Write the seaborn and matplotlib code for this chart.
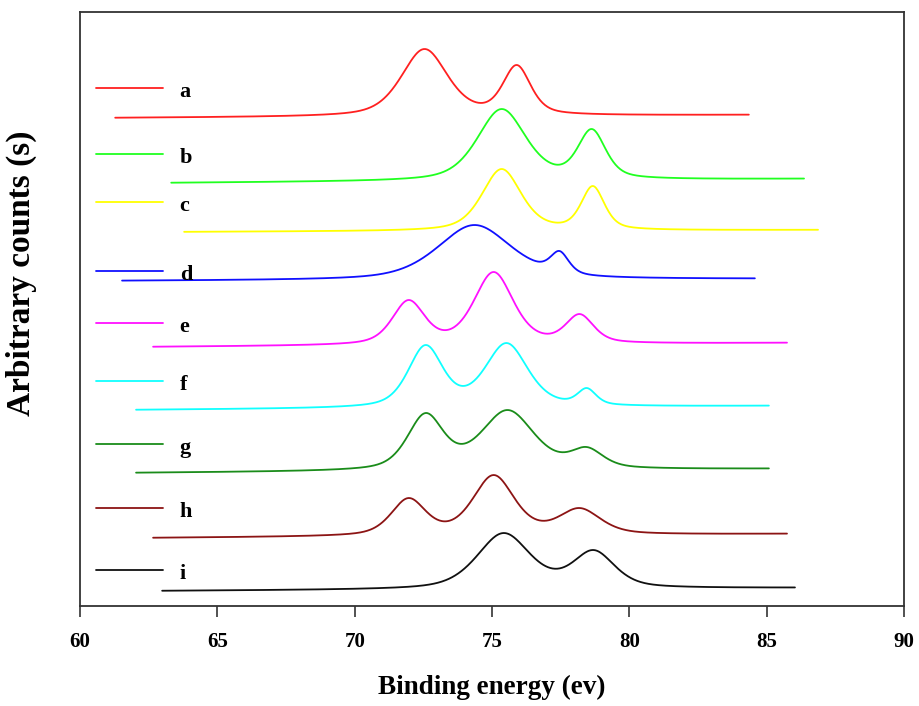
import numpy as np
import pandas as pd
import matplotlib
matplotlib.use("Agg")
import matplotlib.pyplot as plt
import seaborn as sns

# Sample labels and line colours
samples = ["a", "b", "c", "d", "e", "f", "g", "h", "i"]
colors = ["#ff2020", "#20ff20", "#ffff00", "#1010ff", "#ff10ff",
          "#10ffff", "#1a8c1a", "#8c1414", "#101010"]

# Energy range covered by each scan (eV)
e_start = [61.28, 63.32, 63.79, 61.53, 62.66, 62.04, 62.04, 62.66, 62.99]
e_end = [84.35, 86.36, 86.87, 84.57, 85.74, 85.08, 85.08, 85.74, 86.03]

# Stacked background level at the low / high energy end (arbitrary counts)
bg_low = [488, 423, 374, 325, 259, 196, 133, 68, 15]
bg_high = [491, 427, 376, 327, 263, 200, 137, 72, 18]

# Peak positions (eV), apex counts and half widths (eV)
peak_pos = [
    [72.54, 75.90],
    [75.35, 78.63],
    [75.35, 78.67],
    [74.36, 77.46],
    [71.96, 75.06, 78.19],
    [72.58, 75.53, 78.45],
    [72.58, 75.57, 78.45],
    [71.96, 75.06, 78.19],
    [75.42, 78.70],
]
peak_top = [
    [557, 541],
    [497, 477],
    [437, 420],
    [381, 355],
    [306, 334, 292],
    [261, 263, 218],
    [193, 196, 159],
    [108, 131, 98],
    [73, 56],
]
peak_hw = [
    [1.00, 0.60],
    [1.05, 0.60],
    [0.85, 0.50],
    [1.60, 0.40],
    [0.70, 0.85, 0.60],
    [0.75, 0.92, 0.40],
    [0.78, 1.15, 0.70],
    [0.75, 0.90, 0.90],
    [1.15, 0.90],
]
eta = 0.5  # Lorentzian fraction of the pseudo-Voigt line shape


def pvoigt(x, c, hw):
    u = (x - c) / hw
    return eta / (1 + u ** 2) + (1 - eta) * np.exp(-np.log(2) * u ** 2)


frames = []
for k, s in enumerate(samples):
    x = np.linspace(e_start[k], e_end[k], 800)
    x0, x1 = e_start[k], e_end[k]

    def bg(v):
        return bg_low[k] + (bg_high[k] - bg_low[k]) * (v - x0) / (x1 - x0)

    c = np.array(peak_pos[k])
    w = np.array(peak_hw[k])
    top = np.array(peak_top[k], dtype=float)
    # amplitudes so that the summed profile passes through each apex
    m = np.array([[pvoigt(ci, cj, wj) for cj, wj in zip(c, w)] for ci in c])
    amp = np.linalg.solve(m, top - bg(c))
    y = bg(x) + sum(a * pvoigt(x, cj, wj) for a, cj, wj in zip(amp, c, w))
    frames.append(pd.DataFrame({"energy": x, "counts": y, "sample": s}))

df = pd.concat(frames, ignore_index=True)

sns.set_theme(style="white")
plt.rcParams["font.family"] = ["Liberation Serif", "DejaVu Serif"]
plt.rcParams["font.weight"] = "bold"
plt.rcParams["text.color"] = "black"
plt.rcParams["axes.labelcolor"] = "black"
plt.rcParams["xtick.color"] = "black"

fig = plt.figure(figsize=(9.2, 7.06), dpi=100)
ax = fig.add_axes([0.087, 0.1416, 0.8956, 0.8414])

sns.lineplot(data=df, x="energy", y="counts", hue="sample",
             palette=dict(zip(samples, colors)), legend=False,
             sort=False, estimator=None, linewidth=1.3, ax=ax)

ax.set_xlim(60, 90)
ax.set_ylim(0, 594)
ax.set_xticks([60, 65, 70, 75, 80, 85, 90])
ax.set_yticks([])
ax.tick_params(axis="x", direction="out", length=8, width=1.1,
               color="#222222", labelcolor="black", pad=11, labelsize=15,
               bottom=True)
for lab in ax.get_xticklabels():
    lab.set_fontweight("bold")
for sp in ax.spines.values():
    sp.set_color("#333333")
    sp.set_linewidth(1.3)

ax.set_xlabel("Binding energy (ev)", fontsize=19.5, fontweight="bold",
              color="black")
ax.xaxis.set_label_coords(0.5, -0.116)
ax.set_ylabel("Arbitrary counts (s)", fontsize=24, fontweight="bold",
              color="black")
ax.yaxis.set_label_coords(-0.052, 0.56)

# Key: short line segments with the sample letters
key_y = [88, 154, 202, 271, 323, 381, 444, 508, 570]
for s, col, py in zip(samples, colors, key_y):
    fy = (606 - py) / 594
    ax.plot([0.0194, 0.1007], [fy, fy], transform=ax.transAxes,
            color=col, linewidth=1.3)
    ax.text(0.121, fy - 9 / 594, s, transform=ax.transAxes, color="black",
            fontsize=16, fontweight="bold", va="baseline", ha="left")

fig.savefig("out.png", dpi=100)
